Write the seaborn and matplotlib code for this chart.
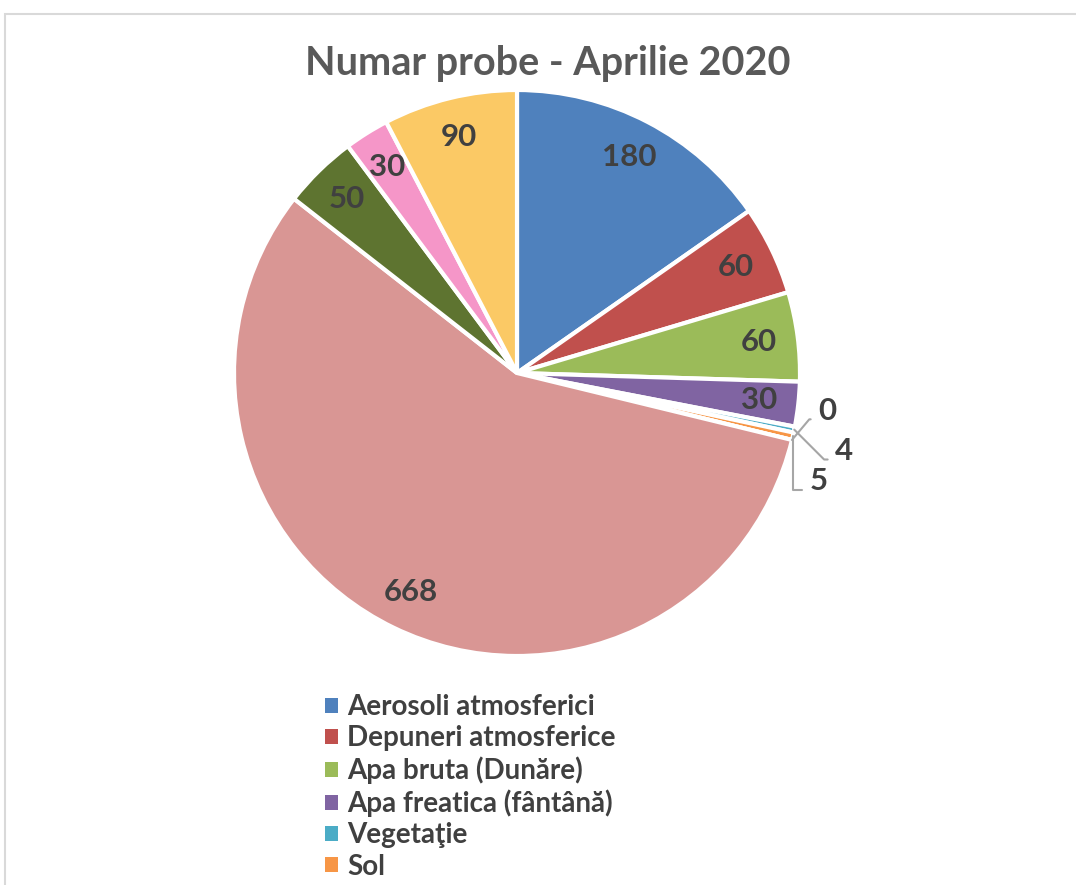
import numpy as np
import matplotlib
matplotlib.use("Agg")
import matplotlib.pyplot as plt
import matplotlib.patches as mpatches
import seaborn as sns

sns.set_theme(style="white")
plt.rcParams['font.family'] = ['Lato', 'DejaVu Sans']

# ---- data ----
categories = ["Aerosoli atmosferici", "Depuneri atmosferice", "Apa bruta (Dunăre)",
              "Apa freatica (fântână)", "Vegetaţie", "Sol", "Cat7", "Cat8", "Cat9",
              "Cat10", "Cat11"]
values = [180, 60, 60, 30, 4, 5, 0, 668, 50, 30, 90]
colors = ["#4F81BD", "#C0504D", "#9BBB59", "#8064A2", "#4BACC6", "#F79646",
          "#C3B9A0", "#D99694", "#5E7430", "#F596C8", "#FBC965"]
legend_count = 6
title = "Numar probe - Aprilie 2020"

W, H = 1076, 885
fig = plt.figure(figsize=(W / 100, H / 100), dpi=100)
fig.patch.set_facecolor("white")

# outer frame (light gray), cropped on the right/bottom
fig.patches.append(mpatches.Rectangle((5 / W, -0.1), 1.2, 1.1 - 14 / H,
                                      transform=fig.transFigure, fill=False,
                                      edgecolor="#D9D9D9", linewidth=1.5))

cx, cy, r = 517, 373, 283
ax = fig.add_axes([(cx - r) / W, 1 - (cy + r) / H, 2 * r / W, 2 * r / H])
ax.set_aspect("equal")

wedges, _ = ax.pie(values, colors=colors, startangle=90, counterclock=False,
                   radius=1.0, wedgeprops=dict(edgecolor="white", linewidth=3))
ax.set_xlim(-1, 1)
ax.set_ylim(-1, 1)
ax.axis("off")

label_color = "#404040"
small_pos = {0: (1.064, -0.134), 4: (1.124, -0.276), 5: (1.035, -0.382)}
small_conn = {0: "angle,angleA=0,angleB=50", 4: "angle,angleA=0,angleB=-45",
              5: "angle,angleA=0,angleB=90"}
for i, (w, v) in enumerate(zip(wedges, values)):
    ang = np.deg2rad((w.theta1 + w.theta2) / 2)
    if v >= 10:
        d = 0.86
        ax.text(d * np.cos(ang), d * np.sin(ang), str(v), ha="center", va="center",
                fontsize=22.5, fontweight="bold", color=label_color)
    else:
        ax.annotate(str(v), xy=(np.cos(ang), np.sin(ang)), xytext=small_pos[v],
                    ha="left", va="center", fontsize=22.5, fontweight="bold",
                    color=label_color,
                    arrowprops=dict(arrowstyle="-", color="#A6A6A6", lw=1.5,
                                    relpos=(0, 0.2), shrinkA=3, shrinkB=0,
                                    connectionstyle=small_conn[v]))

fig.text(548 / W, 1 - 63 / H, title, ha="center", va="center", fontsize=28.5,
         fontweight="bold", color="#595959")

handles = [mpatches.Patch(facecolor=colors[i], edgecolor="none", label=categories[i])
           for i in range(legend_count)]
fig.legend(handles=handles, loc="upper left", bbox_to_anchor=(300 / W, 1 - 669 / H),
           frameon=False, handlelength=0.45, handleheight=0.45,
           handletextpad=0.35, labelspacing=0.19, labelcolor="#404040",
           prop=dict(family=['Lato', 'DejaVu Sans'], weight="bold", size=20))

fig.savefig("out.png", dpi=100, facecolor="white")
